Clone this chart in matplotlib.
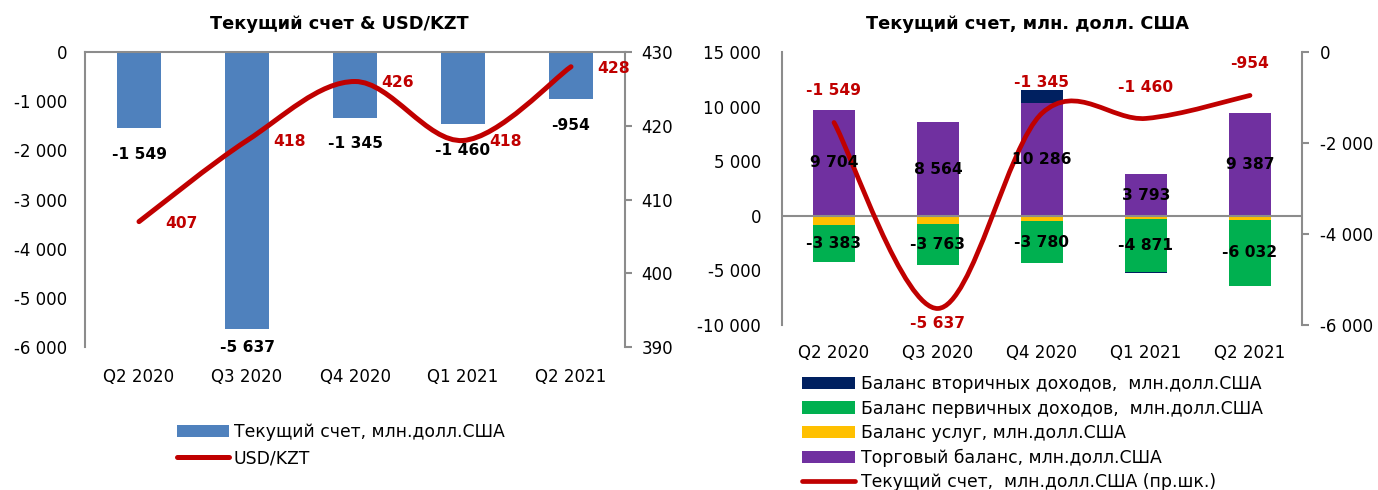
import numpy as np
import matplotlib
matplotlib.use("Agg")
import matplotlib.pyplot as plt
from matplotlib.path import Path
from matplotlib.patches import PathPatch, Patch
from matplotlib.lines import Line2D
from matplotlib.ticker import FuncFormatter

plt.rcParams['font.family'] = ['DejaVu Sans']

# ---------------- data ----------------
quarters = ["Q2 2020", "Q3 2020", "Q4 2020", "Q1 2021", "Q2 2021"]
current_account = [-1549, -5637, -1345, -1460, -954]
usd_kzt = [407, 418, 426, 418, 428]

trade_balance = [9704, 8564, 10286, 3793, 9387]
services_balance = [-860, -735, -520, -306, -367]
primary_income = [-3383, -3763, -3780, -4871, -6032]
secondary_income = [0, 0, 1225, -30, -30]

left_ticks_l = [0, -1000, -2000, -3000, -4000, -5000, -6000]
right_ticks_l = [430, 420, 410, 400, 390]
left_ticks_r = [15000, 10000, 5000, 0, -5000, -10000]
right_ticks_r = [0, -2000, -4000, -6000]

# ---------------- style ----------------
RED = "#C00000"
BLUE = "#4F81BD"
PURPLE = "#7030A0"
YELLOW = "#FFC000"
GREEN = "#00B050"
NAVY = "#002060"
GRAY = "#8C8C8C"
FS = 12
TFS = 12.8
LEGFS = 12.4
LFS = 11.2


def fmt(v, pos=None):
    s = f"{abs(int(round(v))):,}".replace(",", " ")
    return ("-" if v < 0 else "") + s


def smooth_path(xs, ys):
    pts = np.column_stack([xs, ys]).astype(float)
    n = len(pts)
    verts = [pts[0]]
    codes = [Path.MOVETO]
    for i in range(n - 1):
        p0 = pts[i - 1] if i > 0 else pts[i]
        p1 = pts[i]
        p2 = pts[i + 1]
        p3 = pts[i + 2] if i + 2 < n else pts[i + 1]
        c1 = p1 + (p2 - p0) / 6.0
        c2 = p2 - (p3 - p1) / 6.0
        verts += [c1, c2, p2]
        codes += [Path.CURVE4] * 3
    return Path(verts, codes)


fig = plt.figure(figsize=(13.78, 4.90), dpi=100)
W, H = 1378, 490

# ================= LEFT CHART =================
axL = fig.add_axes([85 / W, 1 - 347 / H, 540 / W, 295 / H])
axL2 = axL.twinx()
x = np.arange(len(quarters))

axL.bar(x, current_account, width=0.4, color=BLUE, zorder=2)
axL.set_xlim(-0.5, len(quarters) - 0.5)
axL.set_ylim(-6000, 0)
axL.set_yticks(left_ticks_l)
axL.yaxis.set_major_formatter(FuncFormatter(fmt))
axL.set_xticks(x)
axL.set_xticklabels(quarters)
axL.tick_params(axis='x', length=0, pad=15, labelsize=FS)
axL.tick_params(axis='y', length=0, pad=13, labelsize=FS)
for s in ['bottom', 'right']:
    axL.spines[s].set_visible(False)
axL.spines['left'].set_color(GRAY)
axL.spines['left'].set_linewidth(1.5)
axL.spines['top'].set_color(GRAY)
axL.spines['top'].set_linewidth(1.5)

axL2.set_ylim(390, 430)
axL2.set_yticks(right_ticks_l)
axL2.tick_params(axis='y', length=5, width=1.5, color=GRAY, pad=7, labelsize=FS, direction='out')
for s in ['bottom', 'left', 'top']:
    axL2.spines[s].set_visible(False)
axL2.spines['right'].set_color(GRAY)
axL2.spines['right'].set_linewidth(1.5)
axL2.add_patch(PathPatch(smooth_path(x, usd_kzt), fill=False, edgecolor=RED,
                         lw=3.6, capstyle='round', joinstyle='round', zorder=3))

bar_label_offsets = [-19, -13, -18, -19, -19]
for xi, v, off in zip(x, current_account, bar_label_offsets):
    axL2.annotate(fmt(v), xy=(xi, v), xycoords=axL.transData, xytext=(0, off),
                  textcoords='offset points', ha='center', va='center',
                  fontsize=LFS, fontweight='bold', color='black', zorder=5)
for xi, v in zip(x, usd_kzt):
    axL2.annotate(str(v), xy=(xi, v), xytext=(19, -1), textcoords='offset points',
                  ha='left', va='center', fontsize=LFS, fontweight='bold',
                  color=RED, zorder=5)

fig.text(339 / W, 1 - 24 / H, "Текущий счет & USD/KZT", ha='center', va='center',
         fontsize=TFS, fontweight='bold')

legL_handles = [Patch(facecolor=BLUE, edgecolor='none'),
                Line2D([0], [0], color=RED, lw=3.6, solid_capstyle='round')]
legL_labels = ["Текущий счет, млн.долл.США", "USD/KZT"]
fig.legend(legL_handles, legL_labels, loc='upper left',
           bbox_to_anchor=(177 / W, 1 - 423 / H), frameon=False, fontsize=LEGFS,
           handlelength=3.0, handleheight=0.75, handletextpad=0.3,
           labelspacing=0.5, borderpad=0, borderaxespad=0)

# ================= RIGHT CHART =================
axR = fig.add_axes([782 / W, 1 - 325 / H, 520 / W, 273 / H])
axR2 = axR.twinx()

pos_bottom = np.zeros(len(quarters))
neg_bottom = np.zeros(len(quarters))
for vals, col in [(trade_balance, PURPLE), (services_balance, YELLOW),
                  (primary_income, GREEN), (secondary_income, NAVY)]:
    v = np.array(vals, dtype=float)
    bottom = np.where(v >= 0, pos_bottom, neg_bottom)
    axR.bar(x, v, width=0.4, bottom=bottom, color=col, zorder=2)
    pos_bottom = pos_bottom + np.where(v >= 0, v, 0)
    neg_bottom = neg_bottom + np.where(v < 0, v, 0)

axR.set_xlim(-0.5, len(quarters) - 0.5)
axR.set_ylim(-10000, 15000)
axR.set_yticks(left_ticks_r)
axR.yaxis.set_major_formatter(FuncFormatter(fmt))
axR.set_xticks(x)
axR.set_xticklabels(quarters)
axR.tick_params(axis='x', length=0, pad=14, labelsize=FS)
axR.tick_params(axis='y', length=0, pad=15, labelsize=FS)
for s in ['bottom', 'right', 'top']:
    axR.spines[s].set_visible(False)
axR.spines['left'].set_color(GRAY)
axR.spines['left'].set_linewidth(1.5)
axR.axhline(0, color=GRAY, lw=1.5, zorder=3)

axR2.set_ylim(-6000, 0)
axR2.set_yticks(right_ticks_r)
axR2.yaxis.set_major_formatter(FuncFormatter(fmt))
axR2.tick_params(axis='y', length=5, width=1.5, color=GRAY, pad=8, labelsize=FS, direction='out')
for s in ['bottom', 'left', 'top']:
    axR2.spines[s].set_visible(False)
axR2.spines['right'].set_color(GRAY)
axR2.spines['right'].set_linewidth(1.5)
axR2.add_patch(PathPatch(smooth_path(x, current_account), fill=False, edgecolor=RED,
                         lw=3.4, capstyle='round', joinstyle='round', zorder=3))

# stacked labels (trade and primary income, centered)
for xi, v in zip(x, trade_balance):
    axR2.annotate(fmt(v), xy=(xi, v / 2), xycoords=axR.transData, ha='center',
                  va='center', fontsize=LFS, fontweight='bold', color='black', zorder=5)
for xi, s, p in zip(x, services_balance, primary_income):
    axR2.annotate(fmt(p), xy=(xi, s + p / 2), xycoords=axR.transData, ha='center',
                  va='center', fontsize=LFS, fontweight='bold', color='black', zorder=5)

line_label_offsets = [23, -11, 22, 22, 23]
for xi, v, off in zip(x, current_account, line_label_offsets):
    axR2.annotate(fmt(v), xy=(xi, v), xytext=(0, off), textcoords='offset points',
                  ha='center', va='center', fontsize=LFS, fontweight='bold',
                  color=RED, zorder=5)

fig.text(1027 / W, 1 - 24 / H, "Текущий счет, млн. долл. США", ha='center', va='center',
         fontsize=TFS, fontweight='bold')

legR_handles = [Patch(facecolor=NAVY, edgecolor='none'),
                Patch(facecolor=GREEN, edgecolor='none'),
                Patch(facecolor=YELLOW, edgecolor='none'),
                Patch(facecolor=PURPLE, edgecolor='none'),
                Line2D([0], [0], color=RED, lw=3.4, solid_capstyle='round')]
legR_labels = ["Баланс вторичных доходов,  млн.долл.США",
               "Баланс первичных доходов,  млн.долл.США",
               "Баланс услуг, млн.долл.США",
               "Торговый баланс, млн.долл.США",
               "Текущий счет,  млн.долл.США (пр.шк.)"]
fig.legend(legR_handles, legR_labels, loc='upper left',
           bbox_to_anchor=(802 / W, 1 - 375 / H), frameon=False, fontsize=LEGFS,
           handlelength=3.1, handleheight=0.75, handletextpad=0.3,
           labelspacing=0.38, borderpad=0, borderaxespad=0)

fig.savefig("out.png", dpi=100)
